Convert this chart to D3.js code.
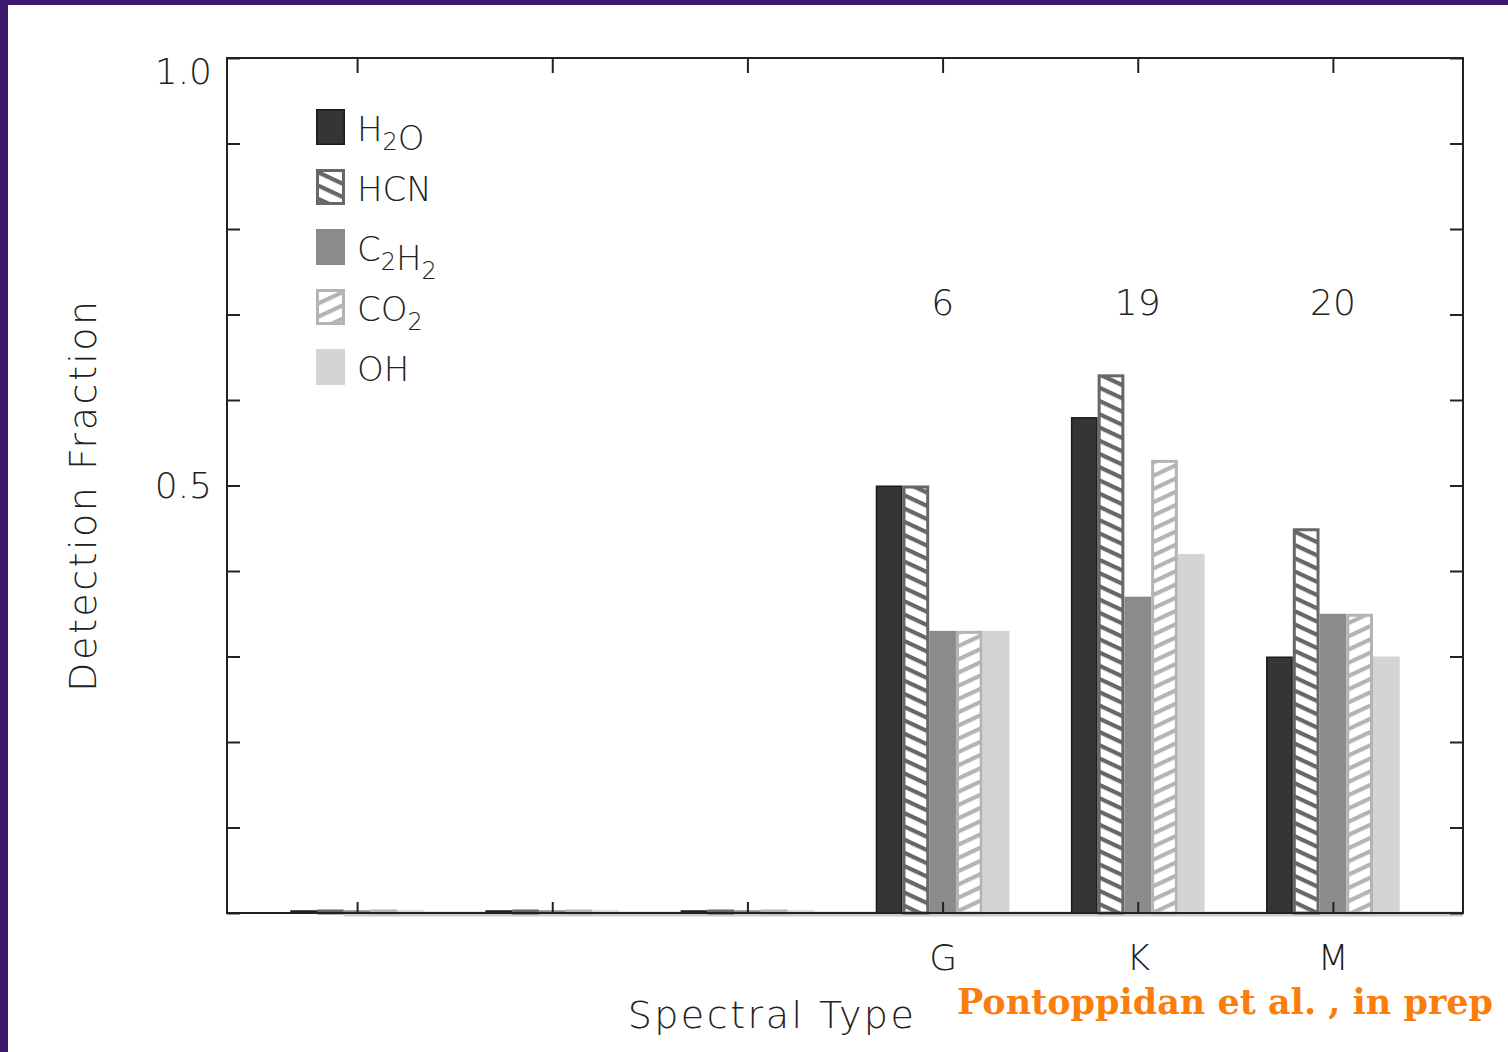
<!DOCTYPE html>
<html>
<head>
<meta charset="utf-8">
<script src="https://cdn.jsdelivr.net/npm/d3@7"></script>
<style>
  html, body { margin: 0; padding: 0; background: #fff; }
  svg { display: block; }
  .idl { font-family: "DejaVu Sans", sans-serif; font-weight: 300; fill: #222; }
  .axis line { stroke: #222; stroke-width: 2; }
  .axis path { display: none; }
  .axis text { font-family: "DejaVu Sans", sans-serif; font-weight: 300; fill: #222; font-size: 36px; }
</style>
</head>
<body>
<svg id="chart" width="1508" height="1052"></svg>
<script>

////////////////////////// DATA //////////////////////////

// category slots along x, only the last three are labelled
const slots = [0, 1, 2, 3, 4, 5]
const tickLabels = ['', '', '', 'G', 'K', 'M']
const sampleSizes = ['', '', '', '6', '19', '20']

const seriesNames = ['H2O', 'HCN', 'C2H2', 'CO2', 'OH']
const h2oValues  = [0, 0, 0, 0.50, 0.58, 0.30]
const hcnValues  = [0, 0, 0, 0.50, 0.63, 0.45]
const c2h2Values = [0, 0, 0, 0.33, 0.37, 0.35]
const co2Values  = [0, 0, 0, 0.33, 0.53, 0.35]
const ohValues   = [0, 0, 0, 0.33, 0.42, 0.30]

const yTickValues = [0, 0.1, 0.2, 0.3, 0.4, 0.5, 0.6, 0.7, 0.8, 0.9, 1.0]
const yTickLabels = ['', '', '', '', '', '0.5', '', '', '', '', '1.0']

// legend text, pieces flagged as subscript
const legendLabels = [
  [['H', 0], ['2', 1], ['O', 0]],
  [['HCN', 0]],
  [['C', 0], ['2', 1], ['H', 0], ['2', 1]],
  [['CO', 0], ['2', 1]],
  [['OH', 0]]
]


////////////////////////// SETUP //////////////////////////

const svg = d3.select('#chart')
const margin = { left: 227, top: 58 }
const width = 1236
const height = 855

// purple slide frame
svg.append('rect').attr('x', 0).attr('y', 0).attr('width', 1508).attr('height', 5).attr('fill', '#3b1a6b')
svg.append('rect').attr('x', 0).attr('y', 0).attr('width', 8).attr('height', 1052).attr('fill', '#3b1a6b')

const defs = svg.append('defs')

// hatch patterns: HCN leans "\" , CO2 leans "/"
const makeHatch = (id, color, angle) => {
  const p = defs.append('pattern')
    .attr('id', id)
    .attr('patternUnits', 'userSpaceOnUse')
    .attr('width', 40)
    .attr('height', 12)
    .attr('patternTransform', `rotate(${angle})`)
  p.append('rect').attr('width', 40).attr('height', 12).attr('fill', '#fff')
  p.append('rect').attr('y', 0).attr('width', 40).attr('height', 4.2).attr('fill', color)
}
makeHatch('hatchHCN', '#676767', 25)
makeHatch('hatchCO2', '#b4b4b4', -25)

const styles = {
  H2O:  { fill: '#353535', stroke: '#1a1a1a', sw: 1.5 },
  HCN:  { fill: 'url(#hatchHCN)', stroke: '#676767', sw: 3 },
  C2H2: { fill: '#8b8b8b', stroke: '#8b8b8b', sw: 1.5 },
  CO2:  { fill: 'url(#hatchCO2)', stroke: '#b4b4b4', sw: 3 },
  OH:   { fill: '#d4d4d4', stroke: '#d4d4d4', sw: 1.5 }
}

const allValues = [h2oValues, hcnValues, c2h2Values, co2Values, ohValues]

// scales
const xScale = d3.scaleLinear().domain([-2 / 3, 5 + 2 / 3]).range([0, width])
const yScale = d3.scaleLinear().domain([0, 1]).range([height, 0])
const barUnits = 0.137
const barW = xScale(barUnits) - xScale(0)
const groupW = barW * seriesNames.length

const g = svg.append('g').attr('transform', `translate(${margin.left},${margin.top})`)


////////////////////////// BARS //////////////////////////

// light baseline band under all the empty bars
g.append('line')
  .attr('x1', xScale(slots[0]) - groupW / 2 + 2 * barW)
  .attr('x2', width)
  .attr('y1', yScale(0) + 1)
  .attr('y2', yScale(0) + 1)
  .attr('stroke', '#cdcdcd')
  .attr('stroke-width', 5)

seriesNames.forEach((name, si) => {
  const st = styles[name]
  const rows = slots.map((s, i) => ({ slot: s, value: allValues[si][i] }))
  g.selectAll(`.bar-${name}`)
    .data(rows)
    .enter()
    .append('rect')
    .attr('class', `bar-${name}`)
    .attr('x', (d) => xScale(d.slot) - groupW / 2 + si * barW + st.sw / 2)
    .attr('y', (d) => Math.min(yScale(d.value) + st.sw / 2, yScale(0) - 2))
    .attr('width', barW - st.sw)
    .attr('height', (d) => Math.max(2, yScale(0) - yScale(d.value) - st.sw / 2))
    .attr('fill', st.fill)
    .attr('stroke', st.stroke)
    .attr('stroke-width', st.sw)
})


////////////////////////// AXES //////////////////////////

const yAxisL = d3.axisLeft(yScale)
  .tickValues(yTickValues)
  .tickSize(-13)
  .tickPadding(15)
  .tickFormat((d, i) => yTickLabels[i])
const yAxisR = d3.axisRight(yScale).tickValues(yTickValues).tickSize(-13).tickFormat('')
const xAxisT = d3.axisTop(xScale).tickValues(slots).tickSize(-15).tickFormat('')
const xAxisB = d3.axisBottom(xScale)
  .tickValues(slots)
  .tickSize(-11)
  .tickPadding(31)
  .tickFormat((d, i) => tickLabels[i])

const yAxisSvg = g.append('g').attr('class', 'axis').call(yAxisL)
yAxisSvg.selectAll('text')
  .filter((d) => d === 1)
  .attr('dy', '0.32em')
  .attr('y', 14)
g.append('g').attr('class', 'axis').attr('transform', `translate(${width},0)`).call(yAxisR)
g.append('g').attr('class', 'axis').call(xAxisT)
g.append('g').attr('class', 'axis').attr('transform', `translate(0,${height})`).call(xAxisB)

// frame
g.append('rect')
  .attr('width', width)
  .attr('height', height)
  .attr('fill', 'none')
  .attr('stroke', '#222')
  .attr('stroke-width', 2)

// sample sizes above groups
g.selectAll('.count')
  .data(slots)
  .enter()
  .append('text')
  .attr('class', 'idl count')
  .attr('x', (d) => xScale(d))
  .attr('y', 257)
  .attr('text-anchor', 'middle')
  .style('font-size', '36px')
  .text((d, i) => sampleSizes[i])


////////////////////////// LEGEND //////////////////////////

const legend = g.append('g').attr('transform', 'translate(89,51)')
seriesNames.forEach((name, i) => {
  const st = styles[name]
  const row = legend.append('g').attr('transform', `translate(0,${i * 60})`)
  row.append('rect')
    .attr('x', st.sw / 2)
    .attr('y', st.sw / 2)
    .attr('width', 29 - st.sw)
    .attr('height', 36 - st.sw)
    .attr('fill', st.fill)
    .attr('stroke', st.stroke)
    .attr('stroke-width', st.sw)
  const t = row.append('text')
    .attr('class', 'idl')
    .attr('x', 41)
    .attr('y', 32)
    .style('font-size', '34px')
  legendLabels[i].forEach(([txt, sub]) => {
    t.append('tspan')
      .attr('dy', sub ? 9 : 0)
      .style('font-size', sub ? '24px' : '34px')
      .text(txt)
    // reset baseline after subscript
    if (sub) t.append('tspan').attr('dy', -9).text('')
  })
})


////////////////////////// TITLES //////////////////////////

svg.append('text')
  .attr('class', 'idl')
  .attr('transform', 'translate(96,495) rotate(-90)')
  .attr('text-anchor', 'middle')
  .style('font-size', '38px')
  .style('letter-spacing', '2.5px')
  .text('Detection Fraction')

svg.append('text')
  .attr('class', 'idl')
  .attr('x', 772)
  .attr('y', 1028)
  .attr('text-anchor', 'middle')
  .style('font-size', '38px')
  .style('letter-spacing', '2.5px')
  .text('Spectral Type')

svg.append('text')
  .attr('x', 957)
  .attr('y', 1014)
  .attr('textLength', 536)
  .attr('lengthAdjust', 'spacingAndGlyphs')
  .style('font-family', '"DejaVu Serif", serif')
  .style('font-weight', 'bold')
  .style('font-size', '36px')
  .attr('fill', '#fb7d0c')
  .text('Pontoppidan et al. , in prep')

</script>
</body>
</html>
